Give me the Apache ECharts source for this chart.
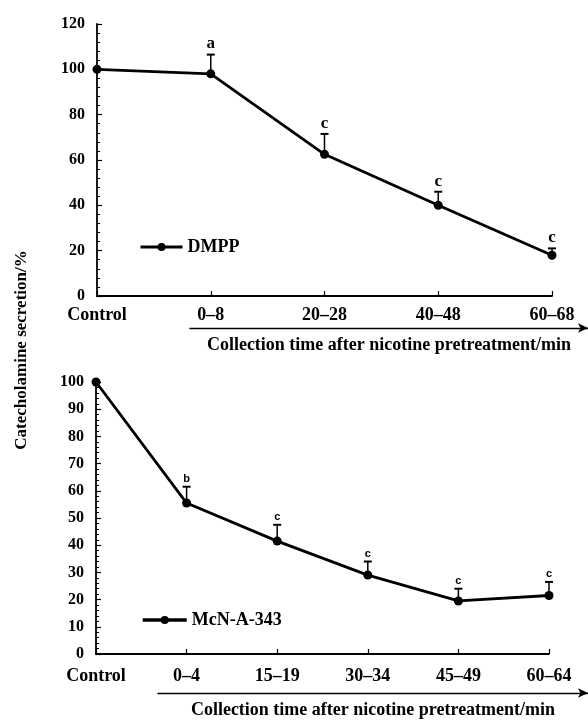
<!DOCTYPE html>
<html><head><meta charset="utf-8">
<script src="https://cdn.jsdelivr.net/npm/echarts@6/dist/echarts.min.js"></script>
<style>html,body{margin:0;padding:0;background:#fff}#c{width:588px;height:720px}</style>
</head><body><div id="c"></div>
<script>
// ---- data ----
const topCats = ['Control', '0\u20138', '20\u201328', '40\u201348', '60\u201368'];
const dmppMean = [100, 98, 62.5, 40, 18];
const dmppErr = [0, 8.5, 9, 6, 3];
const dmppSig = ['', 'a', 'c', 'c', 'c'];

const botCats = ['Control', '0\u20134', '15\u201319', '30\u201334', '45\u201349', '60\u201364'];
const mcnMean = [100, 55.5, 41.5, 29, 19.5, 21.5];
const mcnErr = [0, 6, 6, 5, 4.5, 5];
const mcnSig = ['', 'b', 'c', 'c', 'c', 'c'];

const yTitle = 'Catecholamine secretion/%';
const xTitle = 'Collection time after nicotine pretreatment/min';

// ---- styles ----
const SERIF = '"Liberation Serif", "Times New Roman", serif';
const SANS = '"Liberation Sans", Arial, sans-serif';
const yLbl = { color: '#000', fontFamily: SERIF, fontWeight: 'bold', fontSize: 16 };
const xLbl = { color: '#000', fontFamily: SERIF, fontWeight: 'bold', fontSize: 18 };

function errRender(sigArr, font) {
  return function (params, api) {
    const i = api.value(0), m = api.value(1), e = api.value(2);
    const base = api.coord([i, m]);
    const tip = api.coord([i, m + e]);
    const ch = [];
    if (e > 0) {
      ch.push({ type: 'line', shape: { x1: base[0], y1: base[1], x2: tip[0], y2: tip[1] }, style: { stroke: '#000', lineWidth: 1.5 } });
      ch.push({ type: 'line', shape: { x1: tip[0] - 4, y1: tip[1], x2: tip[0] + 4, y2: tip[1] }, style: { stroke: '#000', lineWidth: 2 } });
    }
    const s = sigArr[params.dataIndex];
    if (s) ch.push({ type: 'text', x: tip[0], y: tip[1] - 2, style: { text: s, align: 'center', verticalAlign: 'bottom', font: font, fill: '#000' } });
    return { type: 'group', children: ch };
  };
}

function yAx(grid, max, interval) {
  return {
    gridIndex: grid, type: 'value', min: 0, max: max, interval: interval,
    axisLine: { show: true, lineStyle: { color: '#000', width: 1.8 } },
    axisTick: { show: true, inside: true, length: 5, lineStyle: { color: '#000', width: 1.2 } },
    minorTick: { show: true, splitNumber: 5, length: 3, lineStyle: { color: '#000', width: 1 } },
    splitLine: { show: false },
    axisLabel: Object.assign({ margin: 12 }, yLbl)
  };
}
function xAx(grid, cats, margin) {
  return {
    gridIndex: grid, type: 'category', data: cats, boundaryGap: false,
    axisLine: { show: true, lineStyle: { color: '#000', width: 1.8 } },
    axisTick: { show: true, inside: true, length: 5, lineStyle: { color: '#000', width: 1.2 } },
    axisLabel: Object.assign({ margin: margin }, xLbl),
    splitLine: { show: false }
  };
}
function arrowAx(grid) {
  return {
    gridIndex: grid, type: 'value', min: 0, max: 1,
    axisLine: { show: true, symbol: ['none', 'arrow'], symbolSize: [7, 10], lineStyle: { color: '#000', width: 1.3 } },
    axisTick: { show: false }, axisLabel: { show: false }, splitLine: { show: false },
    name: xTitle, nameLocation: 'middle', nameGap: 8,
    nameTextStyle: Object.assign({ verticalAlign: 'top' }, xLbl)
  };
}
function hiddenY(grid) {
  return { gridIndex: grid, type: 'value', show: false };
}

const legendText = { color: '#000', fontFamily: SERIF, fontWeight: 'bold', fontSize: 18 };

const option = {
  backgroundColor: '#fff',
  animation: false,
  grid: [
    { left: 97, right: 36, top: 24, height: 272 },
    { left: 96, right: 39, top: 382, height: 272 },
    { left: 190, right: 0, top: 327, height: 1 },
    { left: 158, right: 0, top: 692, height: 1 }
  ],
  xAxis: [xAx(0, topCats, 10), xAx(1, botCats, 13), arrowAx(2), arrowAx(3)],
  yAxis: [yAx(0, 120, 20), yAx(1, 100, 10), hiddenY(2), hiddenY(3)],
  legend: [
    { data: ['DMPP'], left: 134, top: 233, itemWidth: 42, itemHeight: 10, itemGap: 8,
      lineStyle: { width: 3 }, textStyle: legendText },
    { data: ['McN-A-343'], left: 136, top: 606, itemWidth: 44, itemHeight: 10, itemGap: 12,
      lineStyle: { width: 3.5 }, textStyle: legendText }
  ],
  graphic: [
    { type: 'text', x: 22, y: 350, rotation: Math.PI / 2,
      style: { text: yTitle, align: 'center', verticalAlign: 'middle', font: 'bold 17px ' + SERIF, fill: '#000' } }
  ],
  series: [
    { type: 'custom', xAxisIndex: 0, yAxisIndex: 0, z: 1,
      renderItem: errRender(dmppSig, 'bold 17px ' + SERIF),
      data: dmppMean.map((m, i) => [i, m, dmppErr[i]]) },
    { name: 'DMPP', type: 'line', xAxisIndex: 0, yAxisIndex: 0, z: 3,
      data: dmppMean, symbol: 'circle', symbolSize: 9,
      itemStyle: { color: '#000' }, lineStyle: { color: '#000', width: 2.8 } },
    { type: 'custom', xAxisIndex: 1, yAxisIndex: 1, z: 1,
      renderItem: errRender(mcnSig, 'bold 11px ' + SANS),
      data: mcnMean.map((m, i) => [i, m, mcnErr[i]]) },
    { name: 'McN-A-343', type: 'line', xAxisIndex: 1, yAxisIndex: 1, z: 3,
      data: mcnMean, symbol: 'circle', symbolSize: 9,
      itemStyle: { color: '#000' }, lineStyle: { color: '#000', width: 2.8 } }
  ]
};
const chart = echarts.init(document.getElementById('c'), null, { renderer: 'canvas' });
chart.setOption(option);
</script>
</body></html>
